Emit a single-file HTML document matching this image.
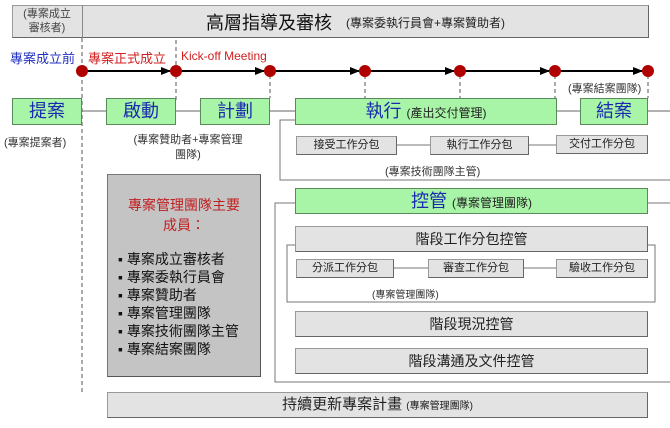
<!DOCTYPE html>
<html><head><meta charset="utf-8"><style>
body{margin:0;width:670px;height:428px;background:#fff;position:relative;overflow:hidden;font-family:"Liberation Sans","Noto Sans CJK TC",sans-serif;}
div{position:absolute;box-sizing:border-box;}
.g{background:#e3e3e3;border:1px solid #999;border-right-color:#666;border-bottom-color:#666;text-align:center;color:#222;}
.gr{background:#a8f5a8;border:1px solid #5a8a5a;text-align:center;color:#1a2ab0;font-size:18px;}
.t{white-space:nowrap;color:#333;}
.s{font-size:11px;color:#333;}
</style></head><body>
<div class="g" style="left:12px;top:5px;width:637px;height:33px;"></div>
<div style="left:82px;top:5px;width:1px;height:33px;background:#888"></div>
<div class="t" style="left:12px;top:7px;width:70px;text-align:center;font-size:11px;line-height:14px;color:#444">(專案成立<br>審核者)</div>
<div class="t" style="left:206px;top:9px;font-size:18px;color:#111">高層指導及審核</div>
<div class="t" style="left:346px;top:14px;font-size:12px;color:#222">(專案委執行員會+專案贊助者)</div>
<div class="t" style="left:10px;top:48px;font-size:13px;color:#2030c0">專案成立前</div>
<div class="t" style="left:88px;top:48px;font-size:13px;color:#d02020">專案正式成立</div>
<div class="t" style="left:181px;top:49px;font-size:12px;color:#d02020">Kick-off Meeting</div>
<svg style="position:absolute;left:0;top:0" width="670" height="428">
<defs><marker id="a" markerWidth="10" markerHeight="8" refX="9" refY="4" orient="auto" markerUnits="userSpaceOnUse"><path d="M0,0 L10,4 L0,8z" fill="#000"/></marker></defs>
<g stroke="#555" stroke-dasharray="4,3" stroke-width="1">
<line x1="82" y1="38" x2="82" y2="392"/>
<line x1="176" y1="40" x2="176" y2="100"/>
<line x1="270" y1="75" x2="270" y2="98"/>
<line x1="365" y1="75" x2="365" y2="98"/>
<line x1="460" y1="75" x2="460" y2="98"/>
<line x1="555" y1="75" x2="555" y2="98"/>
<line x1="648" y1="75" x2="648" y2="98"/>
</g>
<g stroke="#000" stroke-width="2">
<line x1="82" y1="71" x2="170" y2="71" marker-end="url(#a)"/>
<line x1="176" y1="71" x2="264" y2="71" marker-end="url(#a)"/>
<line x1="270" y1="71" x2="359" y2="71" marker-end="url(#a)"/>
<line x1="365" y1="71" x2="454" y2="71" marker-end="url(#a)"/>
<line x1="460" y1="71" x2="549" y2="71" marker-end="url(#a)"/>
<line x1="555" y1="71" x2="642" y2="71" marker-end="url(#a)"/>
</g>
<g fill="#b00000">
<circle cx="82" cy="71" r="6"/><circle cx="176" cy="71" r="6"/><circle cx="270" cy="71" r="6"/>
<circle cx="365" cy="71" r="6"/><circle cx="460" cy="71" r="6"/><circle cx="555" cy="71" r="6"/><circle cx="648" cy="71" r="6"/>
</g>
<line x1="12" y1="111" x2="670" y2="111" stroke="#666"/>
<polyline points="295,120 280,120 280,180 670,180" fill="none" stroke="#777"/>
<line x1="397" y1="145" x2="557" y2="145" stroke="#777"/>
<polyline points="295,203 275,203 275,382 670,382" fill="none" stroke="#777"/>
<line x1="648" y1="203" x2="670" y2="203" stroke="#777"/>
<polyline points="295,245 287,245 287,302 655,302 655,245 648,245" fill="none" stroke="#777"/>
<line x1="393" y1="268" x2="556" y2="268" stroke="#777"/>
</svg>
<div class="gr" style="left:12px;top:98px;width:70px;height:27px;line-height:25px">提案</div>
<div class="gr" style="left:106px;top:98px;width:70px;height:27px;line-height:25px">啟動</div>
<div class="gr" style="left:200px;top:98px;width:70px;height:27px;line-height:25px">計劃</div>
<div class="gr" style="left:295px;top:98px;width:262px;height:27px;line-height:25px">執行 <span style="font-size:12px;color:#222">(產出交付管理)</span></div>
<div class="gr" style="left:580px;top:98px;width:68px;height:27px;line-height:25px">結案</div>
<div class="t s" style="left:4px;top:134px">(專案提案者)</div>
<div class="s" style="left:128px;top:133px;width:120px;text-align:center;line-height:15px">(專案贊助者+專案管理團隊)</div>
<div class="t s" style="left:568px;top:80px">(專案結案團隊)</div>
<div class="g" style="left:296px;top:136px;width:101px;height:19px;font-size:11px;line-height:17px">接受工作分包</div>
<div class="g" style="left:430px;top:136px;width:99px;height:19px;font-size:11px;line-height:17px">執行工作分包</div>
<div class="g" style="left:556px;top:135px;width:92px;height:19px;font-size:11px;line-height:17px">交付工作分包</div>
<div class="t s" style="left:385px;top:163px">(專案技術團隊主管)</div>
<div style="left:107px;top:174px;width:154px;height:203px;background:#c4c4c4;border:1px solid #777;border-right-color:#555;border-bottom-color:#555"></div>
<div style="left:112px;top:195px;width:144px;text-align:center;color:#c02020;font-size:14px;line-height:20px">專案管理團隊主要<br>成員：</div>
<div style="left:118px;top:250px;font-size:14px;line-height:18px;color:#111;white-space:nowrap">▪ 專案成立審核者<br>▪ 專案委執行員會<br>▪ 專案贊助者<br>▪ 專案管理團隊<br>▪ 專案技術團隊主管<br>▪ 專案結案團隊</div>
<div class="gr" style="left:295px;top:188px;width:353px;height:26px;line-height:24px">控管 <span style="font-size:12px;color:#222">(專案管理團隊)</span></div>
<div class="g" style="left:295px;top:226px;width:353px;height:26px;line-height:24px;font-size:14px">階段工作分包控管</div>
<div class="g" style="left:296px;top:259px;width:98px;height:19px;font-size:11px;line-height:17px">分派工作分包</div>
<div class="g" style="left:428px;top:259px;width:96px;height:19px;font-size:11px;line-height:17px">審查工作分包</div>
<div class="g" style="left:556px;top:259px;width:92px;height:19px;font-size:11px;line-height:17px">驗收工作分包</div>
<div class="t s" style="left:372px;top:286px;font-size:10px">(專案管理團隊)</div>
<div class="g" style="left:295px;top:311px;width:353px;height:26px;line-height:24px;font-size:14px">階段現況控管</div>
<div class="g" style="left:295px;top:348px;width:353px;height:26px;line-height:24px;font-size:14px">階段溝通及文件控管</div>
<div class="g" style="left:107px;top:392px;width:541px;height:26px;line-height:24px;font-size:15px">持續更新專案計畫 <span style="font-size:10px">(專案管理團隊)</span></div>
</body></html>
